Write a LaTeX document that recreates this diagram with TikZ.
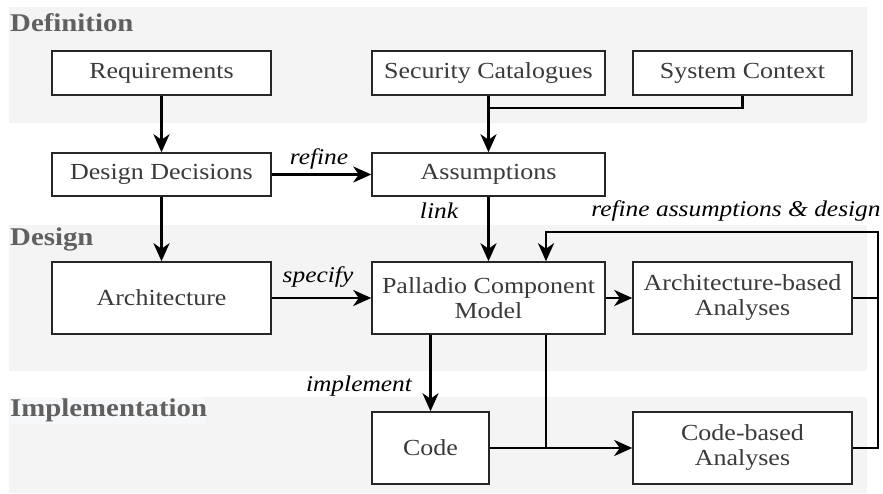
\documentclass[tikz,border=0pt]{standalone}
\usepackage{fontspec}
\setmainfont{Liberation Serif}[FakeStretch=1.13]
\usetikzlibrary{arrows.meta}
\definecolor{band}{RGB}{244,244,244}
\definecolor{bandlbl}{RGB}{247,248,250}
\definecolor{boxtext}{RGB}{58,58,58}
\definecolor{headcol}{RGB}{96,96,96}
\begin{document}
\begin{tikzpicture}[x=1pt,y=-1pt,
  box/.style={draw=black!85, line width=1.5pt, fill=white, text=boxtext, inner sep=0pt, align=center, font=\fontsize{23}{25}\selectfont},
  wbox/.style={box, minimum width=219pt},
  nbox/.style={box, minimum width=233pt},
  conn/.style={line width=2.8pt, line join=miter, -{Stealth[length=18pt,width=16pt,inset=5.5pt]}},
  plain/.style={line width=2.8pt, line join=miter},
  lbl/.style={font=\fontsize{22.5}{25}\selectfont\itshape, inner sep=0pt},
  headlbl/.style={font=\fontsize{25.5}{27}\selectfont\bfseries, text=headcol, inner sep=0pt, anchor=west},
]
\useasboundingbox (0,0) rectangle (883,494);
% bands
\fill[band] (9,7) rectangle (867,123);
\fill[band] (9,225) rectangle (867,371);
\fill[band] (9,397) rectangle (867,493);
\fill[bandlbl] (10,397) rectangle (205,424);
% headings
\node[headlbl] (hdef) at (10,23) {Definition};
\node[headlbl] (hdes) at (10,239) {Design};
\node[headlbl] (himp) at (10,410) {Implementation};
% boxes
\node[wbox, minimum height=44pt] (req) at (161.5,73) {Requirements};
\node[nbox, minimum height=44pt] (sec) at (488.5,73) {Security Catalogues};
\node[wbox, minimum height=44pt] (sys) at (742.5,73) {System Context};
\node[wbox, minimum height=43pt] (dd) at (161.5,174.5) {Design Decisions};
\node[nbox, minimum height=43pt] (ass) at (488.5,174.5) {Assumptions};
\node[wbox, minimum height=72pt] (arch) at (161.5,298) {Architecture};
\node[nbox, minimum height=72pt] (pcm) at (488.5,298) {Palladio Component\\Model};
\node[wbox, minimum height=72pt] (ab) at (742.5,298) {Architecture-based\\Analyses};
\node[box, minimum width=117pt, minimum height=72pt] (code) at (430.5,448) {Code};
\node[wbox, minimum height=72pt] (cb) at (742.5,448) {Code-based\\Analyses};
% coordinates
\coordinate (m) at (488.5,108);
\coordinate (j) at (546,448);
\coordinate (fbr) at (878,232);
\coordinate (fbl) at (546,232);
% connectors
\draw[conn] (req) -- (dd);
\draw[conn] (dd) -- (arch);
\draw[conn] (dd) -- (ass);
\draw[conn] (sec) -- (ass);
\draw[plain] (sys.south) |- (m);
\draw[conn] (ass) -- (pcm);
\draw[conn] (arch) -- (pcm);
\draw[conn] (pcm) -- (ab);
\draw[conn] (pcm.south -| code.north) -- (code.north);
\draw[conn] (code) -- (cb);
\draw[plain] (pcm.south -| j) -- (j);
\draw[plain] (ab.east) -| (fbr);
\draw[conn] (cb.east) -| (fbr) -- (fbl) -- (pcm.north -| fbl);
% labels
\node[lbl] (lrefine) at (319,159) {refine};
\node[lbl] (llink) at (439,211) {link};
\node[lbl] (lfb) at (736,211) {refine assumptions \& design};
\node[lbl] (lspec) at (318,277) {specify};
\node[lbl] (limpl) at (359,386) {implement};
\end{tikzpicture}
\end{document}
